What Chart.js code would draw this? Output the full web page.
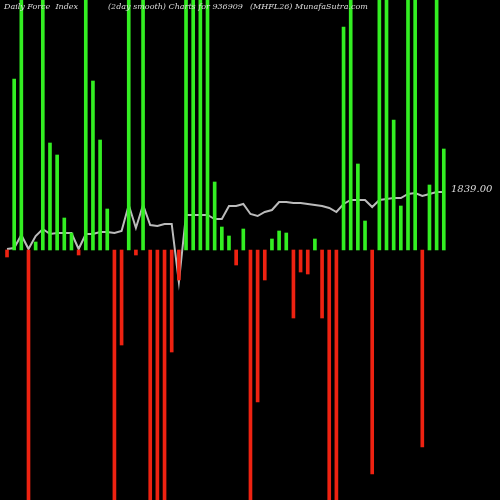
<!DOCTYPE html>
<html><head><meta charset="utf-8">
<script src="https://cdn.jsdelivr.net/npm/chart.js@4"></script>
<style>html,body{margin:0;padding:0;background:#000;overflow:hidden}</style>
</head><body>
<canvas id="c" width="500" height="500"></canvas>
<script>
// force index bars (2 day smooth), clipped at the chart edges
const forceIndex = [-7,171,260,-260,8,260,107,95,32,17,-5,260,169,110,41,-260,-95,260,-5,260,
  -260,-260,-260,-102,-30,260,260,260,258,68,23,14,-15,21,-260,-152,-30,11,19,17,
  -68,-22,-24,11,-68,-260,-260,223,260,86,29,-224,260,260,130,44,260,260,-197,65,260,101];
// closing price
const prices = [1725,1727,1753,1725,1751,1765,1755,1757,1757,1757,1725,1755,1755,1759,1759,1757,1761,1813,1767,1813,
  1773,1771,1775,1775,1659,1793,1793,1793,1793,1785,1785,1811,1811,1815,1795,1791,1799,1803,1819,1819,
  1817,1817,1815,1813,1811,1807,1799,1815,1823,1823,1823,1809,1823,1825,1827,1827,1835,1837,1831,1835,1839,1839];
const categories = prices.map((p, i) => i);
const lastLabel = '1839.00';

const textPlugin = {
  id: 'texts',
  afterDraw(chart) {
    const ctx = chart.ctx;
    ctx.save();
    ctx.fillStyle = '#ddd';
    ctx.font = 'italic 8px "DejaVu Serif", serif';
    ctx.textBaseline = 'top';
    ctx.fillText('Daily Force  Index', 4, 3);
    ctx.fillText('(2day smooth) Charts for 936909', 108, 3);
    ctx.fillText('(MHFL26) MunafaSutra.com', 250, 3);
    ctx.font = 'italic 10px "DejaVu Serif", serif';
    ctx.textBaseline = 'middle';
    const y = chart.scales.y2.getPixelForValue(prices[prices.length - 1]);
    ctx.fillText(lastLabel, 451, y - 3);
    ctx.restore();
  }
};

new Chart(document.getElementById('c'), {
  data: {
    datasets: [{
      type: 'bar',
      data: categories.map(i => ({x: i, y: forceIndex[i]})),
      backgroundColor: forceIndex.map(v => v >= 0 ? '#33ee22' : '#ee2211'),
      barThickness: 3,
      yAxisID: 'y'
    }, {
      type: 'line',
      data: categories.map(i => ({x: i, y: prices[i]})),
      borderColor: '#bbbbbb',
      borderWidth: 2,
      pointRadius: 0,
      tension: 0,
      yAxisID: 'y2'
    }]
  },
  options: {
    responsive: false,
    animation: false,
    layout: {padding: 0},
    plugins: {legend: {display: false}, tooltip: {enabled: false}},
    scales: {
      x: {type: 'linear', display: false, offset: false, min: -0.98, max: 68.85},
      y: {display: false, min: -250, max: 250},
      y2: {display: false, min: 1223, max: 2223}
    }
  },
  plugins: [textPlugin]
});
</script>
</body></html>
